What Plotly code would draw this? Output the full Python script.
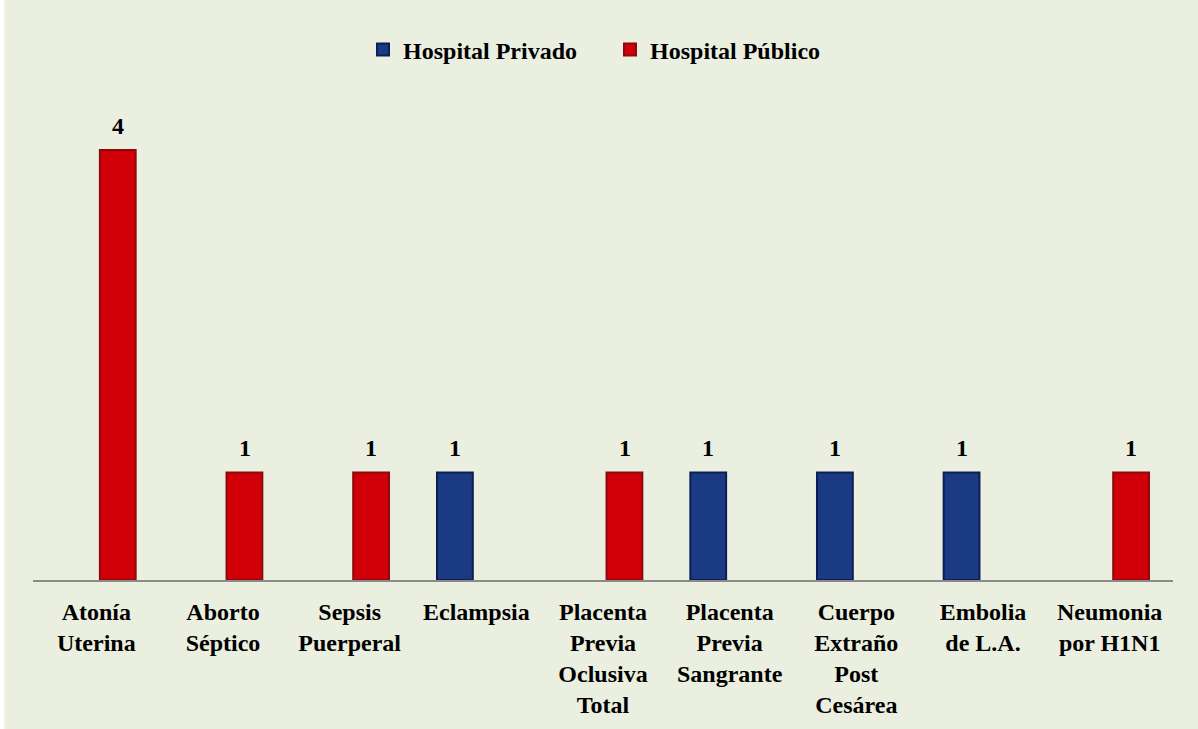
import plotly.graph_objects as go

categories = [
    "Atonía<br>Uterina",
    "Aborto<br>Séptico",
    "Sepsis<br>Puerperal",
    "Eclampsia",
    "Placenta<br>Previa<br>Oclusiva<br>Total",
    "Placenta<br>Previa<br>Sangrante",
    "Cuerpo<br>Extraño<br>Post<br>Cesárea",
    "Embolia<br>de L.A.",
    "Neumonia<br>por H1N1",
]
privado = [None, None, None, 1, None, 1, 1, 1, None]
publico = [4, 1, 1, None, 1, None, None, None, 1]

serif = "Liberation Serif"
label_font = dict(family=serif, size=24, color="black", weight="bold")

fig = go.Figure()
fig.add_trace(go.Bar(
    name="Hospital Privado", x=categories, y=privado,
    marker=dict(color="#1B3A84", line=dict(color="#0C1F52", width=2)),
))
fig.add_trace(go.Bar(
    name="Hospital Público", x=categories, y=publico,
    marker=dict(color="#D10008", line=dict(color="#8A0A0E", width=2)),
))

# value labels above each bar (private bars sit left of the category centre, public right)
for series, dx in ((privado, -21.5), (publico, 21.5)):
    for cat, v in zip(categories, series):
        if v is None:
            continue
        fig.add_annotation(x=cat, y=v, text=str(v), showarrow=False,
                           xshift=dx, yshift=9, yanchor="bottom", font=label_font)

# panel background, leaving a thin white strip on the left and top
fig.add_shape(type="rect", xref="paper", yref="paper",
              x0=-0.025, x1=1.03, y0=-0.35, y1=1.2,
              fillcolor="#EBEFDF", line=dict(width=0), layer="below")

fig.update_layout(
    width=1198, height=729,
    margin=dict(l=33, r=25, t=80, b=149, autoexpand=False),
    paper_bgcolor="white",
    plot_bgcolor="#EBEFDF",
    barmode="group",
    bargap=0.323,
    bargroupgap=0.165,
    showlegend=True,
    legend=dict(orientation="h", x=0.2895, xanchor="left", y=1.06, yanchor="middle",
                font=label_font, entrywidth=202, entrywidthmode="pixels",
                bgcolor="rgba(0,0,0,0)", traceorder="normal", itemwidth=30),
    font=dict(family=serif, color="black"),
)
fig.update_xaxes(
    showline=True, linecolor="#8A8A8A", linewidth=2,
    tickfont=label_font,
    ticks="", showgrid=False, tickangle=0, ticklabelstandoff=9,
)
fig.update_yaxes(range=[0, 4.65], visible=False, showgrid=False)

fig.write_html("out.html")
